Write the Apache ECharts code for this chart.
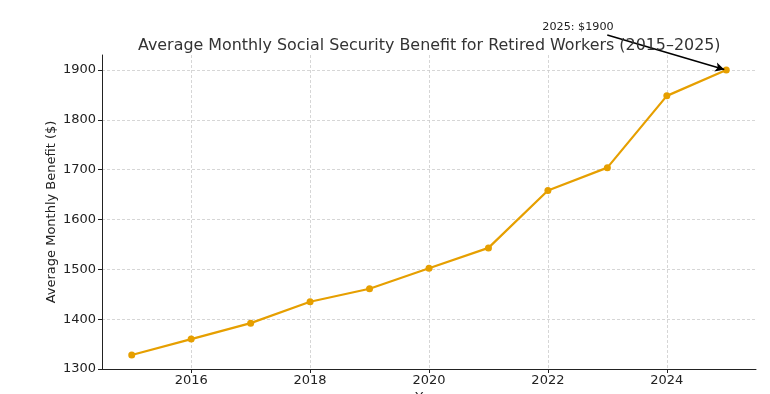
<!DOCTYPE html>
<html><head><meta charset="utf-8">
<script src="https://cdn.jsdelivr.net/npm/echarts@6/dist/echarts.min.js"></script>
<style>html,body{margin:0;padding:0;background:#fff;overflow:hidden}#c{width:770px;height:394px}</style>
</head><body><div id="c"></div>
<script>
const years = [2015, 2016, 2017, 2018, 2019, 2020, 2021, 2022, 2023, 2024, 2025];
const benefits = [1328, 1360, 1392, 1435, 1461, 1502, 1543, 1658, 1704, 1848, 1900];
const xTicks = [2016, 2018, 2020, 2022, 2024];
const yTicks = [1300, 1400, 1500, 1600, 1700, 1800, 1900];
const titleText = 'Average Monthly Social Security Benefit for Retired Workers (2015–2025)';
const yName = 'Average Monthly Benefit ($)';
const xName = 'Year';
const annotIdx = 10;

const FONT = 'DejaVu Sans';
const chart = echarts.init(document.getElementById('c'), null, {renderer: 'canvas', width: 770, height: 394});
const axisCommon = {
  axisLine: {show: true, lineStyle: {color: '#222', width: 1}},
  axisTick: {show: true, inside: false, length: 4, lineStyle: {color: '#222', width: 1}},
  splitLine: {show: true, lineStyle: {color: '#cccccc', width: 0.8, type: [3, 2]}},
  nameTextStyle: {fontFamily: FONT, fontSize: 13, color: '#222'},
  nameMoveOverlap: false
};
const option = {
  animation: false,
  backgroundColor: '#fff',
  title: {
    text: titleText, left: 133, top: 33,
    textStyle: {fontFamily: FONT, fontSize: 15.9, fontWeight: 'normal', color: '#333'}
  },
  grid: {left: 102, right: 14, top: 55, bottom: 25, containLabel: false, outerBoundsMode: 'none'},
  xAxis: Object.assign({}, axisCommon, {
    type: 'value', min: 2014.5, max: 2025.5,
    name: xName, nameLocation: 'middle', nameGap: 22,
    axisTick: Object.assign({}, axisCommon.axisTick, {customValues: xTicks}),
    axisLabel: {customValues: xTicks, margin: 5, fontFamily: FONT, fontSize: 13, color: '#222',
      formatter: v => String(v)}
  }),
  yAxis: Object.assign({}, axisCommon, {
    type: 'value', min: 1300, max: 1930,
    name: yName, nameLocation: 'middle', nameGap: 44,
    axisTick: Object.assign({}, axisCommon.axisTick, {customValues: yTicks}),
    axisLabel: {customValues: yTicks, margin: 6, fontFamily: FONT, fontSize: 13, color: '#222',
      formatter: v => String(v)}
  }),
  series: [{
    type: 'line', clip: false,
    data: years.map((y, i) => [y, benefits[i]]),
    symbol: 'circle', symbolSize: 7,
    lineStyle: {color: '#E69F00', width: 2.2},
    itemStyle: {color: '#E69F00'}
  }]
};
chart.setOption(option);
const p = chart.convertToPixel({gridIndex: 0}, [years[annotIdx], benefits[annotIdx]]);
chart.setOption({
  graphic: [{
    type: 'text', x: p[0] - 184, y: p[1] - 43,
    style: {text: years[annotIdx] + ': $' + benefits[annotIdx], fontFamily: FONT, fontSize: 11.2,
      fill: '#222', verticalAlign: 'middle', align: 'left'}
  }],
  series: [{
    markLine: {
      silent: true, symbol: ['none', 'arrow'], symbolSize: [7, 9],
      label: {show: false},
      lineStyle: {color: '#000', width: 1.5, type: 'solid'},
      data: [[{x: p[0] - 119, y: p[1] - 35}, {x: p[0] - 2, y: p[1] - 0.5}]]
    }
  }]
});
</script></body></html>
